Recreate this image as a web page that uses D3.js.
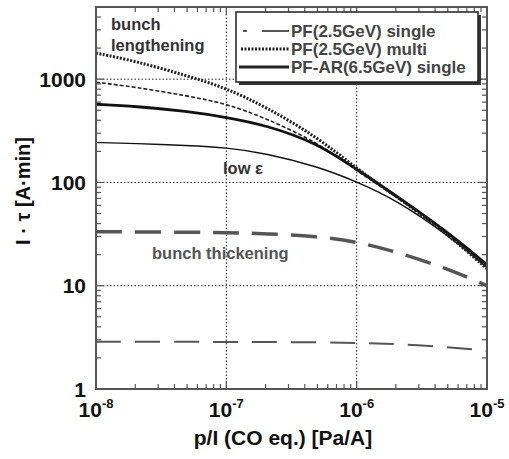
<!DOCTYPE html>
<html><head><meta charset="utf-8">
<script src="https://cdn.jsdelivr.net/npm/d3@7"></script>
<style>body{margin:0;background:#fff}svg{display:block}text{font-family:"Liberation Sans",Arial,sans-serif;font-weight:bold}</style>
</head><body><svg id="c" width="509" height="459"></svg>
<script>
const xVals = [1e-8, 2e-8, 5e-8, 1e-7, 2e-7, 5e-7, 1e-6, 2e-6, 5e-6, 1e-5];
const pfSingle = [935, 840, 690, 580, 420, 245, 130, 73, 32, 15];
const pfMulti = [1790, 1500, 1080, 820, 540, 275, 136, 74, 31.5, 14.6];
const pfarSingle = [572, 547, 490, 428, 360, 240, 134, 75, 33, 16];
const lowEps = [244, 239, 228, 218, 192, 143, 102, 68, 31, 15];
const thickUpper = [33.4, 33.2, 33, 32.7, 32, 30, 26.7, 21.4, 14.6, 10];
const thickLower = [2.86, 2.86, 2.86, 2.86, 2.85, 2.83, 2.8, 2.73, 2.56, 2.34];
const xTickExp = [-8, -7, -6, -5];
const yTicks = [1, 10, 100, 1000];
const legendLabels = ["PF(2.5GeV) single", "PF(2.5GeV) multi", "PF-AR(6.5GeV) single"];

const svg = d3.select("#c");
const L = 96, R = 487, T = 7, B = 389;
const x = d3.scaleLog().domain([1e-8, 1e-5]).range([L, R]);
const y = d3.scaleLog().domain([1, 5000]).range([B, T]);

// grid
const grid = svg.append("g").attr("stroke", "#222").attr("stroke-width", 1).attr("stroke-dasharray", "1.5,2");
[1e-7, 1e-6].forEach(v => grid.append("line").attr("x1", x(v)).attr("x2", x(v)).attr("y1", T).attr("y2", B));
[10, 100, 1000].forEach(v => grid.append("line").attr("x1", L).attr("x2", R).attr("y1", y(v)).attr("y2", y(v)));

// ticks
const tk = svg.append("g").attr("stroke", "#555").attr("stroke-width", 1.2);
for (let e = -8; e < -5; e++) for (let m = 1; m <= 9; m++) {
  const v = m * Math.pow(10, e), len = m === 1 ? 8 : 5, px = x(v);
  tk.append("line").attr("x1", px).attr("x2", px).attr("y1", B).attr("y2", B - len);
  tk.append("line").attr("x1", px).attr("x2", px).attr("y1", T).attr("y2", T + len);
}
for (let e = 0; e < 4; e++) for (let m = 1; m <= 9; m++) {
  const v = m * Math.pow(10, e); if (v > 5000) continue;
  const len = m === 1 ? 8 : 5, py = y(v);
  tk.append("line").attr("x1", L).attr("x2", L + len).attr("y1", py).attr("y2", py);
  tk.append("line").attr("x1", R).attr("x2", R - len).attr("y1", py).attr("y2", py);
}

// curves
const line = d3.line().x(d => x(d[0])).y(d => y(d[1])).curve(d3.curveBasis);
const series = [
  {v: thickUpper, w: 3.5, c: "#555", dash: "26,13"},
  {v: thickLower, w: 2, c: "#555", dash: "25,14"},
  {v: lowEps, w: 1.4, c: "#111", dash: null},
  {v: pfSingle, w: 1.6, c: "#222", dash: "4,2"},
  {v: pfarSingle, w: 2.8, c: "#111", dash: null},
  {v: pfMulti, w: 3, c: "#222", dash: "2,1.5"}
];
series.forEach(s => {
  svg.append("path").datum(xVals.map((xv, i) => [xv, s.v[i]]))
    .attr("d", line).attr("fill", "none").attr("stroke", s.c).attr("stroke-width", s.w)
    .attr("stroke-dasharray", s.dash);
});

// frame
svg.append("rect").attr("x", L).attr("y", T).attr("width", R - L).attr("height", B - T)
  .attr("fill", "none").attr("stroke", "#555").attr("stroke-width", 2);

// y tick labels
yTicks.forEach(v => svg.append("text").attr("x", 86).attr("y", y(v)).attr("dy", "0.36em")
  .attr("text-anchor", "end").attr("font-size", 21).attr("fill", "#111").text(v));
// x tick labels
xTickExp.forEach(e => {
  const t = svg.append("text").attr("x", x(Math.pow(10, e))).attr("y", 417)
    .attr("text-anchor", "middle").attr("font-size", 21).attr("fill", "#111");
  t.append("tspan").text("10");
  t.append("tspan").attr("font-size", 13).attr("dy", -9).text("-" + (-e));
});

// axis titles
svg.append("text").attr("x", 283).attr("y", 445).attr("text-anchor", "middle")
  .attr("font-size", 21).attr("fill", "#111").text("p/I (CO eq.) [Pa/A]");
svg.append("text").attr("transform", "translate(30,191) rotate(-90)").attr("text-anchor", "middle")
  .attr("font-size", 20).attr("fill", "#111").text("I · τ [A·min]");

// annotations
const ann = [["bunch", 111, 30, "#333"], ["lengthening", 111, 51, "#333"],
  ["low ε", 223, 174, "#333"], ["bunch thickening", 152, 259, "#555"]];
ann.forEach(a => svg.append("text").attr("x", a[1]).attr("y", a[2]).attr("font-size", 16.5)
  .attr("fill", a[3]).text(a[0]));

// legend
const lg = svg.append("g");
lg.append("rect").attr("x", 239).attr("y", 15).attr("width", 242).attr("height", 70).attr("fill", "#333");
lg.append("rect").attr("x", 236).attr("y", 12).attr("width", 242).attr("height", 70)
  .attr("fill", "#fff").attr("stroke", "#222").attr("stroke-width", 1.5);
const lgStyles = [{w: 1.6, dash: "4,15,30", x1: 243}, {w: 3, dash: "2,1.5", x1: 241}, {w: 2.8, dash: null, x1: 239}];
legendLabels.forEach((lab, i) => {
  const cy = 31 + i * 18;
  lg.append("line").attr("x1", lgStyles[i].x1).attr("x2", 289).attr("y1", cy).attr("y2", cy)
    .attr("stroke", "#222").attr("stroke-width", lgStyles[i].w).attr("stroke-dasharray", lgStyles[i].dash);
  lg.append("text").attr("x", 291).attr("y", cy + 6).attr("font-size", 17).attr("fill", "#444").text(lab);
});
</script></body></html>
